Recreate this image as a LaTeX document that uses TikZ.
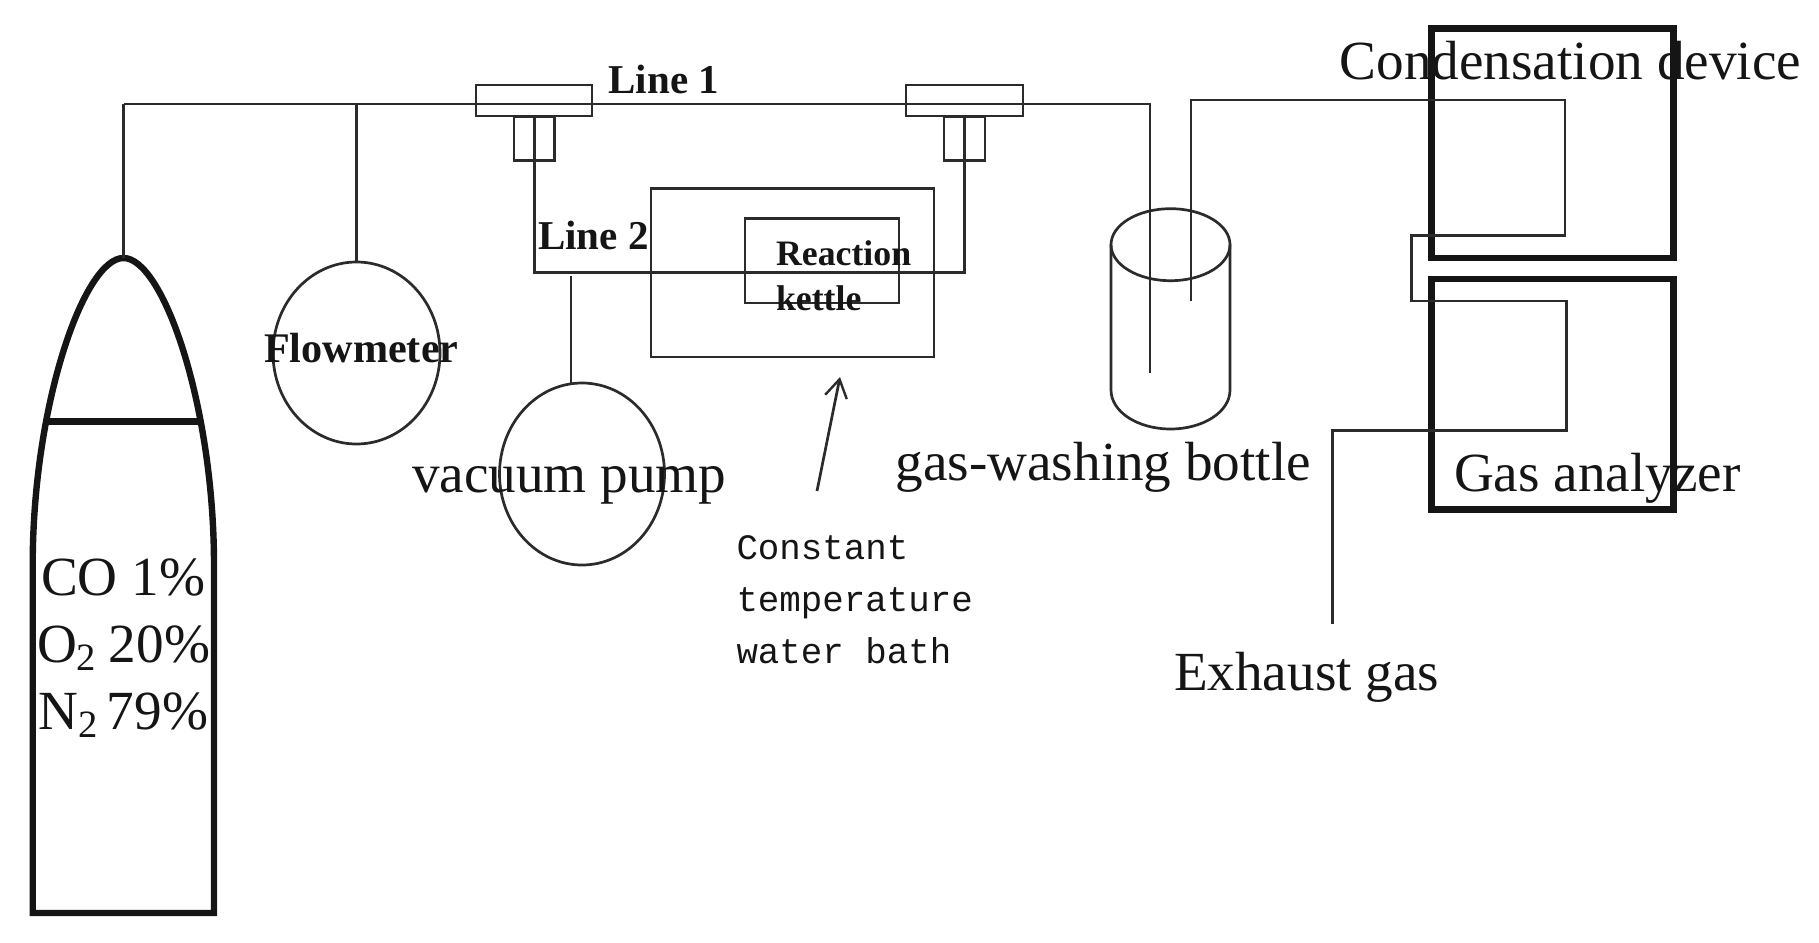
\documentclass[tikz,border=0pt]{standalone}
\usepackage{fontspec}
\setmainfont{Liberation Serif}
\setmonofont{Liberation Mono}
\usetikzlibrary{shapes.geometric,arrows.meta}
\definecolor{ink}{HTML}{2B2B2B}
\definecolor{txt}{HTML}{151515}
\newcommand{\fs}[1]{\fontsize{#1}{#1}\selectfont}
\tikzset{
  pipe/.style={draw=ink,line width=1.35pt,line join=miter},
  heavy/.style={draw=txt,line width=3.2pt},
  box/.style={draw=ink,line width=1.35pt,inner sep=0pt,outer sep=0pt,rectangle},
  thickbox/.style={draw=txt,line width=3.4pt,inner sep=0pt,outer sep=0pt,rectangle},
  round/.style={draw=ink,line width=1.35pt,ellipse,inner sep=0pt,outer sep=0pt},
  lab/.style={text=txt,anchor=base west,inner sep=0pt,outer sep=0pt},
  big/.style={lab,font=\fs{27.6}},
  bold/.style={lab,font=\fs{20.5}\bfseries},
  small/.style={lab,font=\fs{17.9}\bfseries},
  mono/.style={lab,font=\fs{17.9}\ttfamily},
}
\newcommand{\boxat}[6]{\node[#1,minimum width=#4pt,minimum height=#5pt] (#2) at (#3) {#6};}
\begin{document}
\begin{tikzpicture}[x=0.5pt,y=-0.5pt]
\useasboundingbox (0,0) rectangle (1819,942);
% gas cylinder
\coordinate (tanktop) at (123.5,258);
\draw[heavy] (32.7,913) -- (32.7,565) .. controls (32.7,405) and (84,258) .. (tanktop) .. controls (163,258) and (214,405) .. (214,565) -- (214,913) -- cycle;
\draw[heavy] (47,421.6) -- (200,421.6);
% main line coordinates
\coordinate (mainL) at (123.5,104);
\coordinate (mainR) at (1150,104);
\coordinate (dip1) at (1150,373);
\coordinate (dip2) at (1191,300.7);
\coordinate (c1) at (1191,100);
\coordinate (c2) at (1565,100);
\coordinate (c3) at (1565,235.5);
\coordinate (c4) at (1411.7,235.5);
\coordinate (c5) at (1411.7,301);
\coordinate (c6) at (1566.5,301);
\coordinate (c7) at (1566.5,430.7);
\coordinate (c8) at (1332.6,430.7);
\coordinate (exh) at (1332.6,624.4);
% instruments
\node[round,minimum width=83.5pt,minimum height=91pt] (flow) at (356.5,353) {};
\node[round,minimum width=82.5pt,minimum height=91pt] (pump) at (582,474) {};
% valves
\boxat{box}{v1}{534,100.5}{58}{15.5}{}
\boxat{box}{v1s}{534.2,138.2}{20.2}{22}{}
\boxat{box}{v2}{964.5,100.5}{58.5}{15.5}{}
\boxat{box}{v2s}{964.5,138.5}{20.5}{22}{}
% water bath and kettle
\boxat{box}{bath}{792.5,272.8}{141.5}{84.2}{}
\boxat{box}{kettle}{822,260.8}{77}{42.2}{}
% line 2
\coordinate (l2L) at (v1s.center |- 0,272.7);
\coordinate (l2R) at (v2s.center |- 0,272.7);
\coordinate (pumpTee) at (571,276);
\draw[pipe] (mainL) -- (mainR) -- (dip1);
\draw[pipe] (tanktop) -- (mainL);
\draw[pipe] (flow.north) -- (flow.north |- mainL);
\draw[pipe] (v1s.north) -- (l2L) -- (l2R) -- (v2s.north);
\draw[pipe] (pumpTee) -- (pumpTee |- pump.north);
% arrow
\coordinate (arrS) at (817,491);
\coordinate (arrE) at (840,377);
\draw[pipe,-{Straight Barb[length=9pt,width=11pt,line width=1.2pt]}] (arrS) -- (arrE);
% washing bottle
\node[round,minimum width=59.5pt,minimum height=36pt] (wash) at (1170.5,244.7) {};
\draw[pipe] (wash.west) -- (1111,390) .. controls (1111,412) and (1138,429) .. (1170.5,429) .. controls (1203,429) and (1230,412) .. (1230,390) -- (wash.east);
% condensation and analyzer
\boxat{thickbox}{cond}{1552.7,143.2}{121}{114.7}{}
\boxat{thickbox}{gas}{1552.7,394.3}{121}{115.3}{}
\draw[pipe] (dip2) -- (c1) -- (c2) -- (c3) -- (c4) -- (c5) -- (c6) -- (c7) -- (c8) -- (exh);
% labels
\node[big] (tCond) at (1339.6,79.5) {Condensation device};
\node[big] (tGas) at (1454,491) {Gas analyzer};
\node[big] (tExh) at (1174,690) {Exhaust gas};
\node[big] (tWash) at (895.6,480) {gas-washing bottle};
\node[big] (tPump) at (412,492.5) {vacuum pump};
\node[bold,font=\fs{21.1}\bfseries] (tFlow) at (264,362) {Flowmeter};
\node[bold] (tL1) at (608.5,93) {Line 1};
\node[bold] (tL2) at (538,249) {Line 2};
\node[small] (tR) at (776,265) {Reaction};
\node[small] (tK) at (776,310) {kettle};
\node[big] (tCO) at (41,595.5) {CO 1\%};
\node[big] (tO) at (37,662) {O$_{\mathrm{2}}$\kern-1pt{} 20\%};
\node[big] (tN) at (39,729) {N$_{\mathrm{2}}$\kern-3pt{} 79\%};
\node[mono] (tM1) at (736.5,559.5) {Constant};
\node[mono] (tM2) at (736.5,611.5) {temperature};
\node[mono] (tM3) at (736.5,663) {water bath};
\end{tikzpicture}
\end{document}
